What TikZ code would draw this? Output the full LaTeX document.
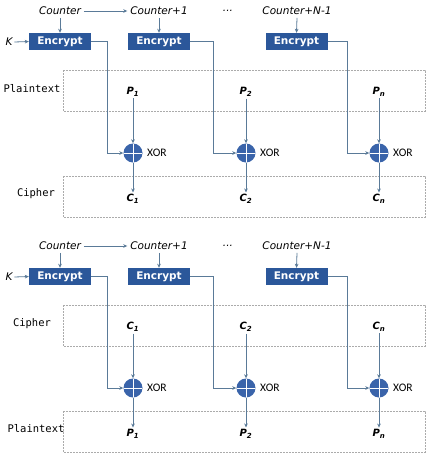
\documentclass[tikz,border=0pt]{standalone}
\usepackage{fontspec}
\setmainfont{DejaVu Sans}
\newfontfamily\monofnt{DejaVu Sans Mono}
\newfontfamily\xorfnt{Carlito}
\usetikzlibrary{arrows.meta}
\definecolor{encblue}{HTML}{2B579A}
\definecolor{linecol}{HTML}{5A7A98}
\definecolor{xorblue}{HTML}{3A64AA}
\definecolor{dashgray}{HTML}{ABABAB}
\tikzset{
  arr/.style={draw=linecol, line width=0.8pt, -{Stealth[length=4pt,width=3.6pt]}},
  ctr/.style={font=\fontsize{10.5}{11}\selectfont\itshape, inner sep=1pt, outer sep=2pt},
  enc/.style={fill=encblue, text=white, font=\fontsize{10.5}{11}\selectfont\bfseries, minimum width=62pt, minimum height=17pt, inner sep=0pt},
  xorc/.style={circle, fill=xorblue, minimum size=19pt, inner sep=0pt,
    path picture={\draw[white, line width=1pt] (path picture bounding box.north) -- (path picture bounding box.south) (path picture bounding box.west) -- (path picture bounding box.east);}},
  xorlab/.style={font=\xorfnt\fontsize{11.5}{12}\selectfont, inner sep=0pt},
  sym/.style={font=\fontsize{10}{11}\selectfont\bfseries\itshape, inner sep=1pt, outer sep=1pt},
  boxlab/.style={font=\monofnt\fontsize{10.5}{11}\selectfont, inner sep=0pt},
  dbox/.style={draw=dashgray, line width=0.6pt, dash pattern=on 2pt off 1pt},
}
\begin{document}
\begin{tikzpicture}[x=1pt,y=-1pt]
\useasboundingbox[fill=white] (0,0) rectangle (430,461);
\foreach \h/\oy/\ta/\tb/\sa/\sb in {t/0/Plaintext/Cipher/P/C, b/235/Cipher/Plaintext/C/P}{
  % dashed boxes
  \draw[dbox] (63,70+\oy) rectangle (425,111+\oy);
  \draw[dbox] (63,176+\oy) rectangle (425,217+\oy);
  \node[boxlab] (la\h) at (32,89+\oy) {\ta};
  \node[boxlab] (lb\h) at (36,193.5+\oy) {\tb};
  % counters
  \node[ctr] (c1\h) at (60,11+\oy) {Counter};
  \node[ctr] (c2\h) at (159,11+\oy) {Counter+1};
  \node[ctr] (cd\h) at (228,11+\oy) {...};
  \node[ctr] (c3\h) at (297,11+\oy) {Counter+N-1};
  \draw[arr] (c1\h.east) -- (c2\h.west);
  % encrypt
  \node[enc] (e1\h) at (60,41.5+\oy) {Encrypt};
  \node[enc] (e2\h) at (159,41.5+\oy) {Encrypt};
  \node[enc] (e3\h) at (296.5,41.5+\oy) {Encrypt};
  \node[ctr, outer sep=1pt] (k\h) at (9,42+\oy) {K};
  \draw[arr] (k\h.east) -- (e1\h.west);
  \draw[arr] (c1\h.south) -- (e1\h.north);
  \draw[arr] (c2\h.south) -- (e2\h.north);
  \draw[arr] (c3\h.south) -- (e3\h.north);
  % xor
  \node[xorc] (x1\h) at (133,153+\oy) {};
  \node[xorc] (x2\h) at (246,153+\oy) {};
  \node[xorc] (x3\h) at (379,153+\oy) {};
  \node[xorlab, anchor=west] (xl1\h) at (147,153+\oy) {XOR};
  \node[xorlab, anchor=west] (xl2\h) at (260,153+\oy) {XOR};
  \node[xorlab, anchor=west] (xl3\h) at (393,153+\oy) {XOR};
  % inputs / outputs
  \node[sym] (a1\h) at (133,92+\oy) {\sa\textsubscript{1}};
  \node[sym] (a2\h) at (246,92+\oy) {\sa\textsubscript{2}};
  \node[sym] (a3\h) at (379,92+\oy) {\sa\textsubscript{n}};
  \node[sym] (b1\h) at (133,199+\oy) {\sb\textsubscript{1}};
  \node[sym] (b2\h) at (246,199+\oy) {\sb\textsubscript{2}};
  \node[sym] (b3\h) at (379,199+\oy) {\sb\textsubscript{n}};
  \draw[arr] (a1\h.south) -- (x1\h.north);
  \draw[arr] (a2\h.south) -- (x2\h.north);
  \draw[arr] (a3\h.south) -- (x3\h.north);
  \draw[arr] (x1\h.south) -- (b1\h.north);
  \draw[arr] (x2\h.south) -- (b2\h.north);
  \draw[arr] (x3\h.south) -- (b3\h.north);
  \draw[arr] (e1\h.east) -- ++(16,0) |- (x1\h.west);
  \draw[arr] (e2\h.east) -- ++(23,0) |- (x2\h.west);
  \draw[arr] (e3\h.east) -- ++(20,0) |- (x3\h.west);
}
\end{tikzpicture}
\end{document}
